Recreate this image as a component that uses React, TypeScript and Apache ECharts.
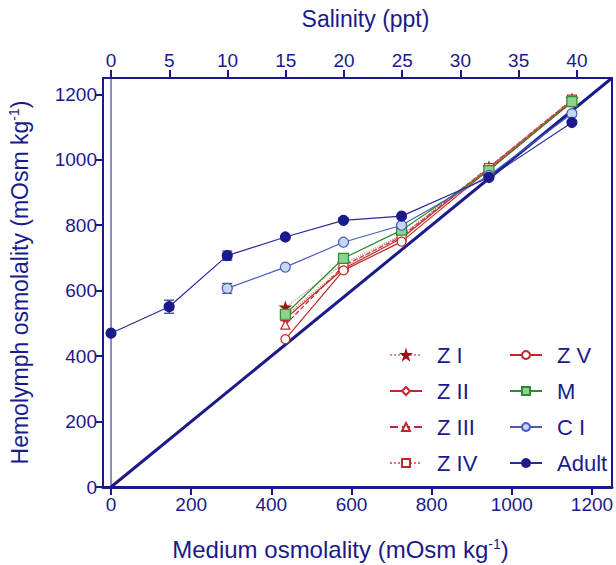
import React, { useEffect, useRef } from "react";
import * as echarts from "echarts";

const NAVY = "#1a1a8a";
const RED = "#c0282c";

const mediumX = [0, 145, 290, 435, 580, 725, 943, 1150];
const adult = [470, 551, 707, 764, 815, 828, 946, 1114];
const ci = [607, 672, 748, 800, 952, 1141];
const megalopa = [528, 699, 785, 967, 1178];
const z1 = [549, 683, 770, 977, 1185];
const z2 = [514, 667, 760, 975, 1180];
const z3 = [496, 676, 765, 977, 1183];
const z4 = [522, 672, 768, 975, 1184];
const z5 = [452, 662, 750, 970, 1176];

const errX = [145, 290, 290];
const errMean = [551, 707, 607];
const errSd = [20, 14, 15];

const salinityTicks = [0, 5, 10, 15, 20, 25, 30, 35, 40];
const osmTicks = [0, 200, 400, 600, 800, 1000, 1200];
const PPT_TO_OSM = 29.06;
const X_MIN = -20;
const AX_MAX = 1250;

const STAR =
  "path://M50,0 L61,35 L98,35 L68,57 L79,91 L50,70 L21,91 L32,57 L2,35 L39,35 Z";

function pairs(xs: number[], ys: number[]) {
  const off = xs.length - ys.length;
  return ys.map((y, i) => [xs[i + off], y]);
}

const plain = (v: number) => String(Math.round(v));

export default function App() {
  const ref = useRef<HTMLDivElement>(null);
  useEffect(() => {
    if (!ref.current) return;
    const chart = echarts.init(ref.current, null, { renderer: "svg" });
    const font = "Liberation Sans";
    const mk = (
      name: string,
      ys: number[],
      symbol: string,
      color: string,
      fill: string,
      lineType: any,
      lineColor: string,
      size = 9
    ) => ({
      name,
      type: "line",
      data: pairs(mediumX, ys),
      symbol,
      symbolSize: size,
      showAllSymbol: true,
      itemStyle: { color: fill, borderColor: color, borderWidth: 1.2 },
      lineStyle: { color: lineColor, width: 1.2, type: lineType },
      z: 5,
    });
    const legendBase = {
      orient: "vertical",
      top: 339,
      itemWidth: 32,
      itemHeight: 10,
      itemGap: 14,
      textStyle: { color: NAVY, fontSize: 22, fontFamily: font, padding: [0, 0, 0, 10] },
      selectedMode: false,
    };
    const sup = { fontSize: 14, verticalAlign: "top", color: NAVY, padding: [0, 0, 11, 0] };
    const option: any = {
      animation: false,
      textStyle: { fontFamily: font },
      grid: {
        left: 103,
        right: 4,
        top: 78,
        bottom: 78,
        containLabel: false,
        outerBoundsMode: "none",
        show: true,
        borderColor: NAVY,
        borderWidth: 2,
      },
      xAxis: [
        {
          type: "value",
          position: "bottom",
          min: X_MIN,
          max: AX_MAX,
          splitLine: { show: false },
          axisLine: { onZero: false, lineStyle: { color: NAVY, width: 3 } },
          axisTick: {
            customValues: osmTicks,
            length: 8,
            lineStyle: { color: NAVY, width: 2 },
          },
          axisLabel: {
            customValues: osmTicks,
            formatter: plain,
            color: NAVY,
            fontSize: 19,
            fontFamily: font,
            margin: 8,
          },
          name: "Medium osmolality (mOsm kg{sup|-1})",
          nameLocation: "middle",
          nameGap: 50,
          nameTextStyle: {
            color: NAVY,
            fontSize: 24,
            fontFamily: font,
            padding: [0, 34, 0, 0],
            rich: { sup },
          },
        },
        {
          type: "value",
          position: "top",
          min: X_MIN / PPT_TO_OSM,
          max: AX_MAX / PPT_TO_OSM,
          splitLine: { show: false },
          axisLine: { onZero: false, lineStyle: { color: NAVY, width: 2 } },
          axisTick: {
            customValues: salinityTicks,
            length: 8,
            lineStyle: { color: NAVY, width: 2 },
          },
          axisLabel: {
            customValues: salinityTicks,
            formatter: plain,
            color: NAVY,
            fontSize: 19,
            fontFamily: font,
            margin: 8,
          },
          name: "Salinity (ppt)",
          nameLocation: "middle",
          nameGap: 48,
          nameTextStyle: { color: NAVY, fontSize: 23, fontFamily: font, padding: [0, 0, 0, 16] },
        },
      ],
      yAxis: {
        type: "value",
        min: 0,
        max: AX_MAX,
        splitLine: { show: false },
        axisLine: { show: true, onZero: false, lineStyle: { color: NAVY, width: 2 } },
        axisTick: {
          show: true,
          customValues: osmTicks,
          length: 8,
          lineStyle: { color: NAVY, width: 2 },
        },
        axisLabel: {
          customValues: osmTicks,
          formatter: plain,
          color: NAVY,
          fontSize: 19,
          fontFamily: font,
          margin: 6,
        },
        name: "Hemolymph osmolality (mOsm kg{sup|-1})",
        nameLocation: "middle",
        nameRotate: 90,
        nameGap: 71,
        nameTextStyle: {
          color: NAVY,
          fontSize: 23,
          fontFamily: font,
          rich: { sup },
        },
      },
      legend: [
        { ...legendBase, data: ["Z I", "Z II", "Z III", "Z IV"], left: 384 },
        { ...legendBase, data: ["Z V", "M", "C I", "Adult"], left: 504 },
      ],
      series: [
        {
          type: "line",
          data: [
            [0, 0],
            [AX_MAX, AX_MAX],
          ],
          symbol: "none",
          silent: true,
          lineStyle: { color: NAVY, width: 3 },
          z: 2,
        },
        {
          type: "line",
          data: [
            [0, 0],
            [0, AX_MAX],
          ],
          symbol: "none",
          silent: true,
          lineStyle: { color: NAVY, width: 1 },
          z: 2,
        },
        {
          type: "custom",
          silent: true,
          z: 4,
          data: errX.map((x, i) => [x, errMean[i] - errSd[i], errMean[i] + errSd[i]]),
          renderItem: (params: any, api: any) => {
            const lo = api.coord([api.value(0), api.value(1)]);
            const hi = api.coord([api.value(0), api.value(2)]);
            const st = { stroke: "#3a3aa0", lineWidth: 1.3 };
            return {
              type: "group",
              children: [
                { type: "line", shape: { x1: lo[0], y1: lo[1], x2: hi[0], y2: hi[1] }, style: st },
                { type: "line", shape: { x1: lo[0] - 5, y1: lo[1], x2: lo[0] + 5, y2: lo[1] }, style: st },
                { type: "line", shape: { x1: hi[0] - 5, y1: hi[1], x2: hi[0] + 5, y2: hi[1] }, style: st },
              ],
            };
          },
        },
        mk("Z I", z1, STAR, "#9a0f12", "#9a0f12", "dotted", "#e58a8a", 10),
        mk("Z II", z2, "diamond", RED, "#ffffff", "solid", RED, 9),
        mk("Z III", z3, "triangle", RED, "#ffffff", "dashed", RED, 9),
        mk("Z IV", z4, "rect", RED, "#ffffff", "dotted", "#e07070", 9),
        mk("Z V", z5, "circle", RED, "#ffffff", "solid", RED, 9),
        mk("M", megalopa, "rect", "#2e8b2e", "#8fd28f", "solid", "#2e8b2e", 10),
        mk("C I", ci, "circle", "#4a5ac0", "#c4d8f2", "solid", "#4a5ac0", 10),
        mk("Adult", adult, "circle", NAVY, NAVY, "solid", "#2a2a9a", 10),
      ],
    };
    chart.setOption(option);
    return () => chart.dispose();
  }, []);
  return (
    <div
      ref={ref}
      style={{ position: "absolute", left: 0, top: 0, width: 616, height: 565 }}
    />
  );
}
